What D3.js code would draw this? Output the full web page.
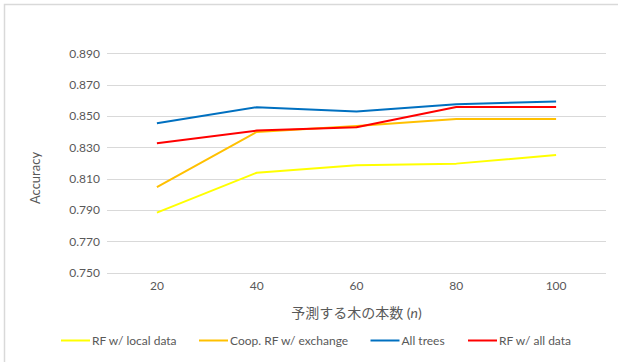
<!DOCTYPE html>
<html>
<head>
<meta charset="utf-8">
<script src="https://cdn.jsdelivr.net/npm/d3@7"></script>
<style>
  html, body { margin: 0; padding: 0; background: #fff; }
  svg { display: block; }
  text { font-family: Lato, "Noto Sans CJK JP", sans-serif; fill: #595959; }
</style>
</head>
<body>
<svg id="chart" width="618" height="362"></svg>
<script>
// Number of trees used for prediction
const categories = ["20", "40", "60", "80", "100"];

// Accuracy per method
const rfLocal    = [0.7883, 0.8138, 0.8185, 0.8196, 0.8251];
const coopRf     = [0.8046, 0.8398, 0.8436, 0.8481, 0.8481];
const allTrees   = [0.8453, 0.8556, 0.8528, 0.8575, 0.8592];
const rfAllData  = [0.8326, 0.8407, 0.8428, 0.8557, 0.8557];

const yTicks = [0.750, 0.770, 0.790, 0.810, 0.830, 0.850, 0.870, 0.890];

const seriesNames  = ["RF w/ local data", "Coop. RF w/ exchange", "All trees", "RF w/ all data"];
const seriesColors = ["#FFFF00", "#FFC000", "#0070C0", "#FF0000"];
const seriesValues = [rfLocal, coopRf, allTrees, rfAllData];

const svg = d3.select("#chart");

// Outer chart frame
svg.append("rect")
  .attr("x", 4.5).attr("y", 4.5)
  .attr("width", 640).attr("height", 400)
  .attr("fill", "none").attr("stroke", "#d9d9d9").attr("stroke-width", 1.5);

const plot = { left: 107, right: 606, top: 53.3, bottom: 272.7 };

const x = d3.scaleBand().domain(categories).range([plot.left, plot.right]);
const y = d3.scaleLinear().domain([0.750, 0.890]).range([plot.bottom, plot.top]);

// Horizontal gridlines
svg.append("g")
  .selectAll("line")
  .data(yTicks)
  .join("line")
  .attr("x1", plot.left).attr("x2", plot.right)
  .attr("y1", d => Math.round(y(d)) + 0.5).attr("y2", d => Math.round(y(d)) + 0.5)
  .attr("stroke", "#d9d9d9").attr("stroke-width", 1);

// Y axis tick labels
const yAxis = d3.axisLeft(y).tickValues(yTicks).tickFormat(d3.format(".3f")).tickSize(0).tickPadding(0);
svg.append("g")
  .attr("transform", `translate(${plot.left - 7},0)`)
  .call(yAxis)
  .call(g => g.select(".domain").remove())
  .call(g => g.selectAll("text").attr("font-size", 12).attr("fill", "#595959")
    .style("font-family", "Lato, sans-serif"));

// X axis tick labels
const xAxis = d3.axisBottom(x).tickSize(0).tickPadding(0);
svg.append("g")
  .attr("transform", `translate(0,${plot.bottom + 9})`)
  .call(xAxis)
  .call(g => g.select(".domain").remove())
  .call(g => g.selectAll("text").attr("font-size", 12).attr("fill", "#595959")
    .style("font-family", "Lato, sans-serif"));

// Axis titles
svg.append("text")
  .attr("transform", "translate(40,178) rotate(-90)")
  .attr("text-anchor", "middle")
  .attr("font-size", 13)
  .text("Accuracy");

const xt = svg.append("text")
  .attr("x", 356.5).attr("y", 318)
  .attr("text-anchor", "middle")
  .attr("font-size", 14);
xt.append("tspan").text("予測する木の本数 (");
xt.append("tspan").attr("font-style", "italic").text("n");
xt.append("tspan").text(")");

// Series lines
const line = d3.line()
  .x((d, i) => x(categories[i]) + x.bandwidth() / 2)
  .y(d => y(d));

svg.append("g")
  .selectAll("path")
  .data(seriesValues)
  .join("path")
  .attr("d", d => line(d))
  .attr("fill", "none")
  .attr("stroke", (d, i) => seriesColors[i])
  .attr("stroke-width", 2)
  .attr("stroke-linejoin", "round");

// Legend
const legendX = [61, 199, 370.5, 468];
const legendY = 340.5;
const leg = svg.append("g")
  .selectAll("g")
  .data(seriesNames)
  .join("g")
  .attr("transform", (d, i) => `translate(${legendX[i]},${legendY})`);
leg.append("line")
  .attr("x1", 0).attr("x2", 29)
  .attr("y1", 0).attr("y2", 0)
  .attr("stroke", (d, i) => seriesColors[i])
  .attr("stroke-width", 2);
leg.append("text")
  .attr("x", 31).attr("y", 4.5)
  .attr("font-size", 12)
  .text(d => d);
</script>
</body>
</html>
